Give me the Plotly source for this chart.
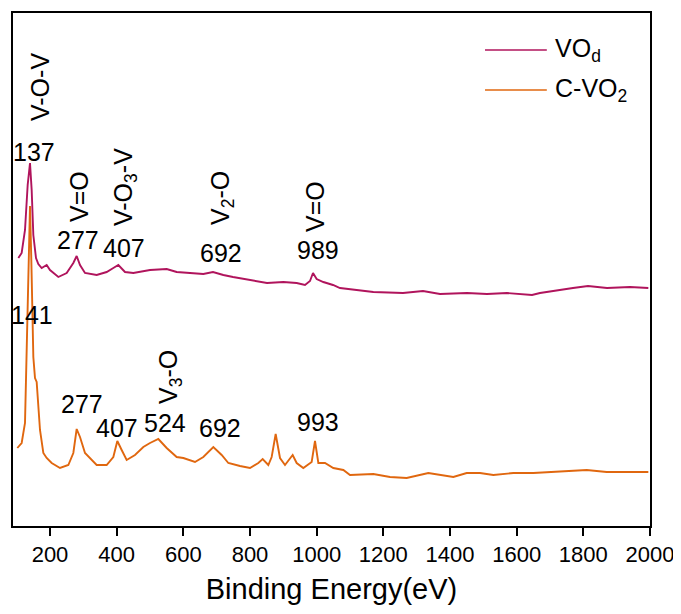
import plotly.graph_objects as go

# ---- data (arbitrary intensity units) ----
vod_x = [105, 115, 125, 133, 140, 145, 150, 158, 165, 175, 190, 200, 225, 250, 270, 280, 290,
         305, 340, 370, 390, 405, 425, 450, 500, 550, 580, 611, 660, 689, 720, 749, 800,
         851, 900, 940, 965, 980, 989, 1000, 1020, 1049, 1070, 1130, 1170, 1259, 1319,
         1370, 1451, 1511, 1571, 1646, 1670, 1769, 1814, 1871, 1940, 1995]
vod_y = [268, 273, 296, 341, 363, 336, 291, 268, 262, 258, 261, 256, 249, 253, 263, 270, 261,
         253, 251, 254, 258, 261, 254, 253, 256, 257, 254, 253, 252, 254, 251, 249, 246,
         243, 244, 243, 241, 245, 253, 247, 244, 241, 238, 236, 234, 233, 235,
         232, 233, 232, 233, 231, 233, 238, 240, 238, 239, 238]

cvo2_x = [102, 115, 125, 132, 137, 140, 144, 150, 155, 160, 170, 180, 190, 205, 230, 255,
          270, 280, 290, 305, 340, 370, 390, 402, 415, 430, 455, 480, 500, 525, 550, 580,
          600, 635, 660, 690, 715, 735, 770, 800, 825, 838, 855, 865, 877, 890, 905, 928,
          940, 960, 985, 995, 1005, 1025, 1050, 1080, 1100, 1170, 1220, 1270, 1335, 1370,
          1410, 1450, 1490, 1530, 1590, 1650, 1710, 1810, 1870, 1940, 1995]
cvo2_y = [78, 83, 103, 196, 286, 320, 266, 169, 148, 144, 96, 73, 68, 63, 58, 61,
          73, 97, 89, 73, 61, 61, 69, 85, 76, 66, 71, 79, 83, 87, 78, 69,
          68, 64, 69, 79, 71, 63, 60, 58, 63, 67, 61, 69, 92, 68, 61, 71,
          63, 58, 64, 85, 63, 63, 58, 56, 51, 52, 49, 48, 53, 51,
          49, 53, 53, 51, 53, 53, 54, 56, 54, 54, 54]

series_names = ["VO<sub>d</sub>", "C-VO<sub>2</sub>"]
series_colors = ["#B0145C", "#E0670F"]

x_ticks = [200, 400, 600, 800, 1000, 1200, 1400, 1600, 1800, 2000]

# peak labels: (text, x, y, rotated)
peak_labels = [
    ("V-O-V", 170, 439, True), ("137", 152, 374, False),
    ("V=O", 287, 329, True), ("277", 284, 286, False),
    ("V-O<sub>3</sub>-V", 425, 339, True), ("407", 422, 278, False),
    ("V<sub>2</sub>-O", 716, 328, True), ("692", 713, 273, False),
    ("V=O", 995, 319, True), ("989", 1004, 276, False),
    ("141", 146, 211, False), ("277", 296, 122, False),
    ("407", 401, 98, False), ("524", 545, 103, False),
    ("V<sub>3</sub>-O", 560, 149, True), ("692", 710, 98, False),
    ("993", 1004, 104, False),
]

FONT = "Arial, Liberation Sans, sans-serif"

fig = go.Figure()
fig.add_trace(go.Scatter(x=vod_x, y=vod_y, mode="lines", name=series_names[0],
                         line=dict(color=series_colors[0], width=1.9), showlegend=False))
fig.add_trace(go.Scatter(x=cvo2_x, y=cvo2_y, mode="lines", name=series_names[1],
                         line=dict(color=series_colors[1], width=1.9), showlegend=False))

annotations = []
for text, x, y, rot in peak_labels:
    annotations.append(dict(x=x, y=y, xref="x", yref="y", text=text, showarrow=False,
                            textangle=-90 if rot else 0,
                            font=dict(family=FONT, size=25, color="black")))

# custom legend (long line samples like the reference)
shapes = []
leg_y = [0.928, 0.850]
for name, color, ly in zip(series_names, series_colors, leg_y):
    shapes.append(dict(type="line", xref="paper", yref="paper", x0=0.741, x1=0.838,
                       y0=ly, y1=ly, line=dict(color=color, width=1.6)))
    annotations.append(dict(x=0.848, y=ly, xref="paper", yref="paper", text=name,
                            showarrow=False, xanchor="left", yanchor="middle",
                            font=dict(family=FONT, size=25, color="black")))

fig.update_layout(
    width=673, height=606,
    margin=dict(l=5, r=31, t=5, b=88, autoexpand=False),
    paper_bgcolor="white", plot_bgcolor="white",
    font=dict(family=FONT, color="black"),
    annotations=annotations, shapes=shapes,
    xaxis=dict(range=[89, 2000], tickvals=x_ticks, ticks="outside", ticklen=8, tickwidth=2,
               tickcolor="black", showline=True, linewidth=2, linecolor="black", mirror=True,
               showgrid=False, zeroline=False, tickfont=dict(size=22, family=FONT),
               automargin=False,
               title=dict(text="Binding Energy(eV)", font=dict(size=29, family=FONT), standoff=12)),
    yaxis=dict(range=[0, 513], showticklabels=False, ticks="", showline=True, linewidth=2,
               linecolor="black", mirror=True, showgrid=False, zeroline=False, automargin=False),
)

fig.write_html("out.html")
